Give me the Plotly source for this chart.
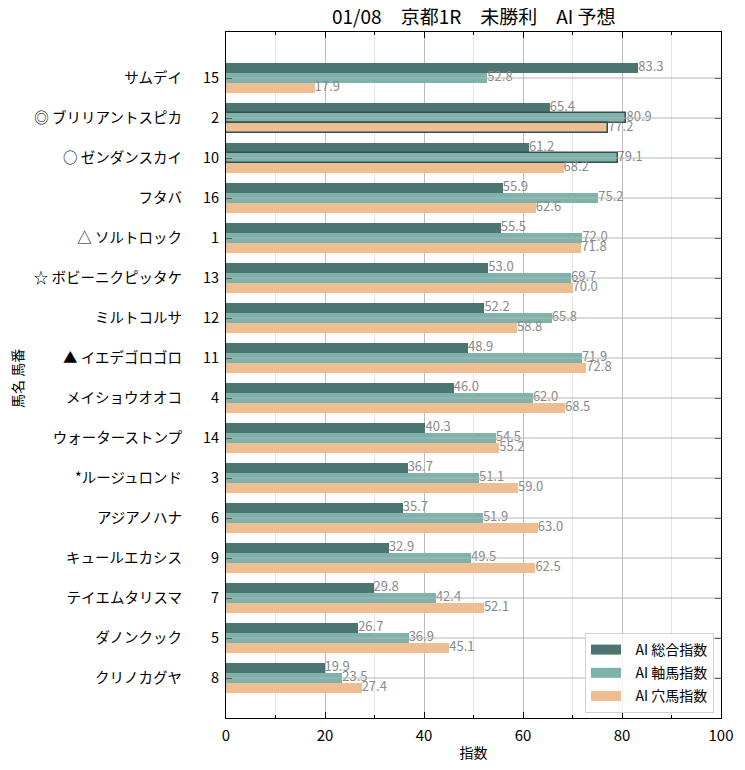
import plotly.graph_objects as go

names = ["サムデイ", "◎ ブリリアントスピカ", "○ ゼンダンスカイ", "フタバ", "△ ソルトロック",
         "☆ ボビーニクピッタケ", "ミルトコルサ", "▲ イエデゴロゴロ", "メイショウオオコ",
         "ウォーターストンプ", "*ルージュロンド", "アジアノハナ", "キュールエカシス",
         "テイエムタリスマ", "ダノンクック", "クリノカグヤ"]
numbers = [15, 2, 10, 16, 1, 13, 12, 11, 4, 14, 3, 6, 9, 7, 5, 8]
sogo = [83.3, 65.4, 61.2, 55.9, 55.5, 53.0, 52.2, 48.9, 46.0, 40.3, 36.7, 35.7, 32.9, 29.8, 26.7, 19.9]
jiku = [52.8, 80.9, 79.1, 75.2, 72.0, 69.7, 65.8, 71.9, 62.0, 54.5, 51.1, 51.9, 49.5, 42.4, 36.9, 23.5]
ana = [17.9, 77.2, 68.2, 62.6, 71.8, 70.0, 58.8, 72.8, 68.5, 55.2, 59.0, 63.0, 62.5, 52.1, 45.1, 27.4]
series_names = ["AI 総合指数", "AI 軸馬指数", "AI 穴馬指数"]
title = "01/08　京都1R　未勝利　AI 予想"
x_ticks = [0, 20, 40, 60, 80, 100]
x_minor = [10, 30, 50, 70, 90]

colors = ["#4b7570", "#7db3ab", "#eebd92"]
edge = "#2f524e"
FONT = "Noto Sans CJK JP"

# page has 8px body margin; figure sized to fit the window
W, H = 737, 762
L, R, T, B = 218, 24, 24, 52

n = len(names)
idx = list(range(n))
offsets = [-0.25, 0.0, 0.25]
series = [sogo, jiku, ana]

outline = [[False] * n, [False] * n, [False] * n]
outline[1][1] = True
outline[2][1] = True
outline[1][2] = True

fig = go.Figure()
for s, (vals, off, col) in enumerate(zip(series, offsets, colors)):
    fig.add_trace(go.Bar(
        x=vals, y=[i + off for i in idx], orientation="h", width=0.25,
        marker=dict(color=col,
                    line=dict(color=[edge if o else col for o in outline[s]],
                              width=[1.5 if o else 0 for o in outline[s]])),
        showlegend=False, hoverinfo="x",
    ))
for s, (vals, off) in enumerate(zip(series, offsets)):
    fig.add_trace(go.Scatter(
        x=vals, y=[i + off for i in idx], mode="text",
        text=[f"{v:.1f}" for v in vals], textposition="middle right",
        textfont=dict(family=FONT, size=13, color="#8a8a8a"),
        showlegend=False, hoverinfo="skip", cliponaxis=False,
    ))
# legend entries (wide swatches)
for s, col in enumerate(colors):
    fig.add_trace(go.Scatter(x=[None], y=[None], mode="lines",
                             name="\u00a0\u00a0\u00a0" + series_names[s], legendgroup=f"g{s}",
                             line=dict(color=col, width=10), showlegend=True))

for i in idx:
    fig.add_shape(type="line", xref="paper", x0=0, x1=1, yref="y", y0=i, y1=i,
                  line=dict(color="#b4b4b4", width=1), layer="above")

ticktext = [f"{nm}\u3000  {str(num).rjust(2, '\u2007')}" for nm, num in zip(names, numbers)]

pw = W - L - R
ph = H - T - B
fig.add_annotation(text="馬名 馬番", xref="paper", yref="paper", x=(9 - L) / pw, y=0.5 - 4 / ph,
                   xanchor="center", yanchor="middle", textangle=-90, showarrow=False,
                   font=dict(family=FONT, size=14, color="black"))
# chart title as an annotation just above the plot area
fig.add_annotation(text=title, xref="paper", yref="paper", x=0.5, y=1 + 1 / ph,
                   xanchor="center", yanchor="bottom", showarrow=False,
                   font=dict(family=FONT, size=19, color="black"))

fig.update_layout(
    width=W, height=H,
    margin=dict(l=L, r=R, t=T, b=B, autoexpand=False),
    paper_bgcolor="white", plot_bgcolor="white",
    font=dict(family=FONT, size=14, color="black"),
    barmode="overlay",
    bargap=0,
    legend=dict(x=1 - 7 / pw, y=5 / ph, xanchor="right", yanchor="bottom",
                bgcolor="rgba(255,255,255,0.85)", bordercolor="#d0d0d0", borderwidth=1,
                font=dict(family=FONT, size=14), itemwidth=30, tracegroupgap=2),
    xaxis=dict(range=[0, 100], tickvals=x_ticks, automargin=False,
               showgrid=True, gridcolor="#bcbcbc", gridwidth=1,
               minor=dict(tickvals=x_minor, showgrid=True, gridcolor="#e4e4e4",
                          ticks="inside", ticklen=3, tickcolor="black"),
               ticks="inside", ticklen=6, tickcolor="black", ticklabelstandoff=4,
               showline=True, linecolor="black", linewidth=1, mirror="ticks",
               zeroline=False,
               title=dict(text="指数", font=dict(family=FONT, size=14), standoff=4),
               tickfont=dict(family=FONT, size=15)),
    yaxis=dict(range=[16.0, -1.15], tickvals=idx, ticktext=ticktext, automargin=False,
               showgrid=False, ticks="inside", ticklen=6, tickcolor="black", ticklabelstandoff=3,
               showline=True, linecolor="black", linewidth=1, mirror="ticks",
               zeroline=False,
               tickfont=dict(family=FONT, size=14.5)),
)

fig.write_html("out.html")
